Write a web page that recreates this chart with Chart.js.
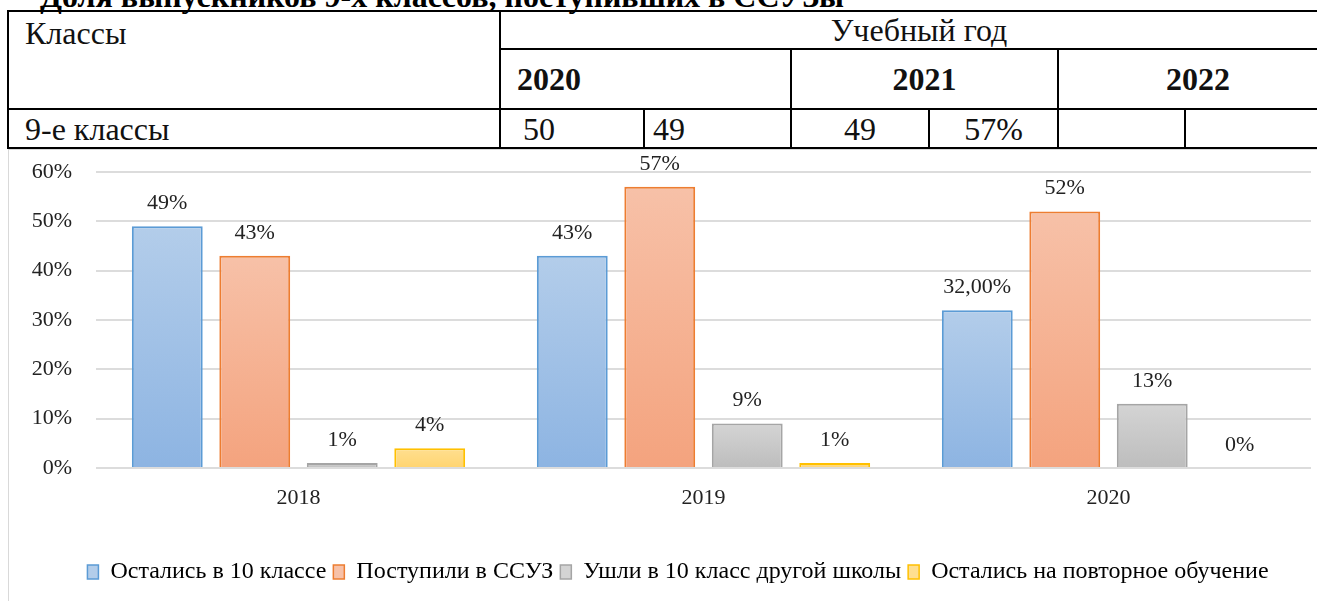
<!DOCTYPE html>
<html>
<head>
<meta charset="utf-8">
<script src="https://cdn.jsdelivr.net/npm/chart.js@4"></script>
<style>
  body { margin: 0; width: 1317px; height: 601px; overflow: hidden; background: #fff; position: relative; font-family: 'Liberation Serif', 'Times New Roman', serif; color: #000; }
  #title { position: absolute; left: 40px; top: -22px; font-weight: bold; font-size: 32px; white-space: nowrap; }
  #tbl { position: absolute; left: 7px; top: 10px; width: 1330px; border-collapse: collapse; table-layout: fixed; font-size: 32px; }
  #tbl td { border: 2px solid #000; padding: 0 14px; line-height: 1; white-space: nowrap; font-family: 'Liberation Serif', 'Times New Roman', serif; color: #111; }
  #tbl .r1 td { height: 36px; }
  #tbl .r2 td { height: 58px; font-weight: bold; }
  #tbl .r3 td { height: 37px; }
  #chartBox { position: absolute; left: 8px; top: 149px; width: 1320px; height: 470px; border: 1px solid #d9d9d9; }
</style>
</head>
<body>
<div id="title">Доля выпускников 9-х классов, поступивших в ССУЗы</div>
<table id="tbl">
  <colgroup>
    <col style="width:492px"><col style="width:144px"><col style="width:147px">
    <col style="width:138px"><col style="width:129px"><col style="width:127px"><col style="width:153px">
  </colgroup>
  <tr class="r1">
    <td rowspan="2" style="vertical-align:top;padding-top:5px;padding-left:16px;">Классы</td>
    <td colspan="6" style="text-align:center;">Учебный год</td>
  </tr>
  <tr class="r2">
    <td colspan="2" style="padding-left:16px;">2020</td>
    <td colspan="2" style="text-align:center;">2021</td>
    <td colspan="2" style="text-align:center;">2022</td>
  </tr>
  <tr class="r3">
    <td style="padding-left:16px;">9-е классы</td>
    <td style="padding-left:22px;">50</td>
    <td style="padding-left:8px;">49</td>
    <td style="text-align:center;">49</td>
    <td style="text-align:center;">57%</td>
    <td></td>
    <td></td>
  </tr>
</table>
<div id="chartBox"><canvas id="chart" width="1309" height="451"></canvas></div>
<script>
// данные диаграммы
const categories = ['2018', '2019', '2020'];
const stayedIn10 = [49, 43, 32];
const enteredSsuz = [43, 57, 52];
const otherSchool = [1, 9, 13];
const repeatYear = [4, 1, 0];
const stayedText = ['49%', '43%', '32,00%'];
const seriesNames = ['Остались в 10 классе', 'Поступили в ССУЗ', 'Ушли в 10 класс другой школы', 'Остались на повторное обучение'];

// цвета
const topColors = ['#b3cdea', '#f7c1a8', '#d4d4d4', '#ffdf90'];
const bottomColors = ['#8db4e2', '#f4a37e', '#bdbdbd', '#ffd470'];
const borderColors = ['#5b9bd5', '#ed7d31', '#a5a5a5', '#ffc000'];

Chart.defaults.font.family = "'Liberation Serif', 'Times New Roman', serif";
Chart.defaults.font.size = 22;
Chart.defaults.color = '#222';

function barFill(i) {
  return (ctx) => {
    const chart = ctx.chart;
    if (!chart.chartArea || ctx.type !== 'data') return topColors[i];
    const y = chart.scales.y;
    const top = y.getPixelForValue(ctx.parsed.y);
    const bottom = y.getPixelForValue(0);
    if (bottom - top < 1) return bottomColors[i];
    const g = chart.ctx.createLinearGradient(0, top, 0, bottom);
    g.addColorStop(0, topColors[i]);
    g.addColorStop(1, bottomColors[i]);
    return g;
  };
}

//подписи над столбцами
const labelPlugin = {
  id: 'barLabels',
  afterLayout(chart) {
    // легенда чуть правее центра, как в оригинале
    chart.legend.left += 18;
    chart.legend.right += 18;
  },
  afterDatasetsDraw(chart) {
    const c = chart.ctx;
    c.save();
    c.font = "22px 'Liberation Serif', 'Times New Roman', serif";
    c.fillStyle = '#222';
    c.textAlign = 'center';
    c.textBaseline = 'middle';
    chart.data.datasets.forEach((ds, di) => {
      chart.getDatasetMeta(di).data.forEach((bar, j) => {
        const txt = ds.labelText ? ds.labelText[j] : ds.data[j] + '%';
        c.fillText(txt, bar.x, bar.y - 23);
      });
    });
    c.restore();
  }
};

const allSeries = [stayedIn10, enteredSsuz, otherSchool, repeatYear];
const datasets = allSeries.map((vals, i) => ({
  label: seriesNames[i],
  data: vals,
  backgroundColor: barFill(i),
  borderColor: borderColors[i],
  borderWidth: 2,
  borderSkipped: 'bottom',
  categoryPercentage: 0.864,
  barPercentage: 0.81
}));
datasets[0].labelText = stayedText;

new Chart(document.getElementById('chart'), {
  type: 'bar',
  data: { labels: categories, datasets: datasets },
  options: {
    responsive: false,
    animation: false,
    layout: { padding: { top: 22, right: 7, left: 0, bottom: 7 } },
    plugins: {
      tooltip: { enabled: false },
      legend: {
        position: 'bottom',
        labels: {
          boxWidth: 11,
          boxHeight: 14,
          padding: 7,
          color: '#000',
          font: { size: 24 },
          generateLabels: (chart) => chart.data.datasets.map((ds, i) => ({
            text: ds.label,
            fillStyle: topColors[i],
            strokeStyle: borderColors[i],
            lineWidth: 1.5,
            datasetIndex: i,
            hidden: false
          }))
        }
      }
    },
    scales: {
      x: {
        grid: { display: false, drawTicks: false },
        border: { display: false },
        ticks: { padding: 17, color: '#222' },
        afterFit: (s) => { s.height = 85; }
      },
      y: {
        min: 0,
        max: 60,
        ticks: { stepSize: 10, padding: 24, color: '#222', callback: (v) => v + '%' },
        grid: { color: '#dcdcdc', lineWidth: 2, drawTicks: false },
        border: { display: false },
        afterFit: (s) => { s.width = 87; s.paddingTop = 0; s.paddingBottom = 0; }
      }
    }
  },
  plugins: [labelPlugin]
});
</script>
</body>
</html>
